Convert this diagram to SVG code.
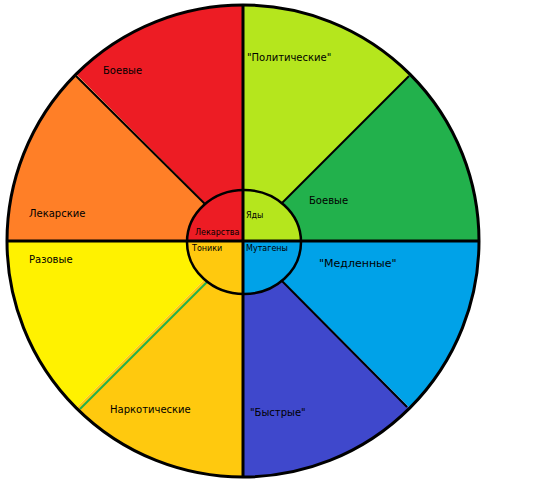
<svg xmlns="http://www.w3.org/2000/svg" width="557" height="479" viewBox="0 0 557 479">
<style>
.t{font-family:"DejaVu Sans","Liberation Sans",sans-serif;font-size:10px;fill:#000}
.s{font-family:"DejaVu Sans","Liberation Sans",sans-serif;font-size:8px;fill:#000}
.ln{stroke:#000;stroke-width:2;fill:none}
.ax{stroke:#000;stroke-width:3;fill:none}
</style>
<defs>
<clipPath id="ic"><ellipse cx="244" cy="242" rx="57" ry="52"/></clipPath>
</defs>
<rect width="557" height="479" fill="#fff"/>
<g id="sector-red"><path d="M243,241 L243,5 A236,236 0 0 0 76.1,74.1 Z" fill="#ed1c24"/><text class="t" x="103" y="74">Боевые</text></g>
<g id="sector-orange"><path d="M243,241 L76.1,74.1 A236,236 0 0 0 7,241 Z" fill="#ff7f27"/><text class="t" x="29" y="217">Лекарские</text></g>
<g id="sector-yellow"><path d="M243,241 L7,241 A236,236 0 0 0 76.1,407.9 Z" fill="#fff200"/><text class="t" x="29" y="263">Разовые</text></g>
<g id="sector-gold"><path d="M243,241 L76.1,407.9 A236,236 0 0 0 243,477 Z" fill="#ffc90e"/><text class="t" x="110" y="413">Наркотические</text></g>
<g id="sector-indigo"><path d="M243,241 L243,477 A236,236 0 0 0 409.9,407.9 Z" fill="#3f48cc"/><text class="t" x="250" y="416">"Быстрые"</text></g>
<g id="sector-blue"><path d="M243,241 L409.9,407.9 A236,236 0 0 0 479,241 Z" fill="#00a2e8"/><text class="t" x="319" y="267" style="font-size:11px">"Медленные"</text></g>
<g id="sector-green"><path d="M243,241 L479,241 A236,236 0 0 0 409.9,74.1 Z" fill="#22b14c"/><text class="t" x="309" y="204">Боевые</text></g>
<g id="sector-lime"><path d="M243,241 L409.9,74.1 A236,236 0 0 0 243,5 Z" fill="#b5e61d"/><text class="t" x="247" y="61">"Политические"</text></g>
<g id="connectors">
<line class="ln" x1="76" y1="76" x2="206" y2="205"/>
<line class="ln" x1="409" y1="76" x2="282" y2="203"/>
<line class="ln" x1="407" y1="407" x2="282" y2="281"/>
<line x1="80" y1="409" x2="207" y2="282" stroke="#22b14c" stroke-width="2"/>
</g>
<g id="inner">
<g clip-path="url(#ic)">
<rect x="180" y="180" width="63" height="61" fill="#ed1c24"/>
<rect x="243" y="180" width="70" height="61" fill="#b5e61d"/>
<rect x="243" y="241" width="70" height="60" fill="#00a2e8"/>
<rect x="180" y="241" width="63" height="60" fill="#ffc90e"/>
</g>
<ellipse cx="244" cy="242" rx="57" ry="52" fill="none" stroke="#000" stroke-width="2.5"/>
</g>
<g id="axes">
<line class="ax" x1="243" y1="5" x2="243" y2="477"/>
<line class="ax" x1="7" y1="241" x2="479" y2="241"/>
<circle class="ax" cx="243" cy="241" r="236"/>
</g>
<g id="inner-labels">
<text class="s" x="246" y="218">Яды</text>
<text class="s" x="195" y="235">Лекарства</text>
<text class="s" x="192" y="251">Тоники</text>
<text class="s" x="246" y="251">Мутагены</text>
</g>
</svg>
